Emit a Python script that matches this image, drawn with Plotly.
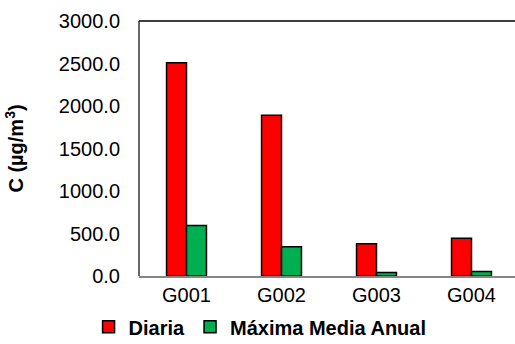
import plotly.graph_objects as go

# Monitoring points and concentrations (µg/m³)
stations = ["G001", "G002", "G003", "G004"]
diaria = [2510, 1890, 380, 445]
maxima_media_anual = [595, 345, 42, 52]
y_ticks = [0, 500, 1000, 1500, 2000, 2500, 3000]

FONT = "Liberation Sans, Arial, sans-serif"

fig = go.Figure()
fig.add_trace(go.Bar(
    x=stations, y=diaria, name="Diaria",
    marker=dict(color="#FF0000", line=dict(color="#000000", width=1.5)),
))
fig.add_trace(go.Bar(
    x=stations, y=maxima_media_anual, name="Máxima Media Anual",
    marker=dict(color="#00B050", line=dict(color="#000000", width=1.5)),
))

# plot-area frame: top and left edges in black
fig.add_shape(type="line", xref="paper", yref="paper", x0=0, x1=1, y0=1, y1=1,
              line=dict(color="#000000", width=1.5))
fig.add_shape(type="line", xref="paper", yref="paper", x0=0, x1=0, y0=0, y1=1,
              line=dict(color="#000000", width=1.2))

fig.update_layout(
    width=515, height=344,
    margin=dict(l=139, r=0, t=21, b=68),
    paper_bgcolor="white", plot_bgcolor="white",
    barmode="group", bargap=0.58, bargroupgap=0,
    font=dict(family=FONT, size=20, color="#000000"),
    showlegend=True,
    legend=dict(orientation="h", xref="container", x=0.505, xanchor="center",
                yref="container", y=0.05, yanchor="middle",
                font=dict(family=FONT, size=20, color="#000000", weight="bold"),
                itemwidth=30, tracegroupgap=0),
    xaxis=dict(range=[-0.5, 3.458], showline=True, linecolor="#868686", linewidth=1.5,
               showgrid=False, ticks="", tickfont=dict(size=20)),
    yaxis=dict(range=[0, 3000], tickvals=y_ticks, tickformat=".1f", showgrid=False,
               zeroline=False, showline=False, ticks="", ticklabelstandoff=18,
               tickfont=dict(size=20),
               title=dict(text="<b>C (µg/m<sup>3</sup>)</b>", font=dict(size=20), standoff=29)),
)

fig.write_html("out.html")
